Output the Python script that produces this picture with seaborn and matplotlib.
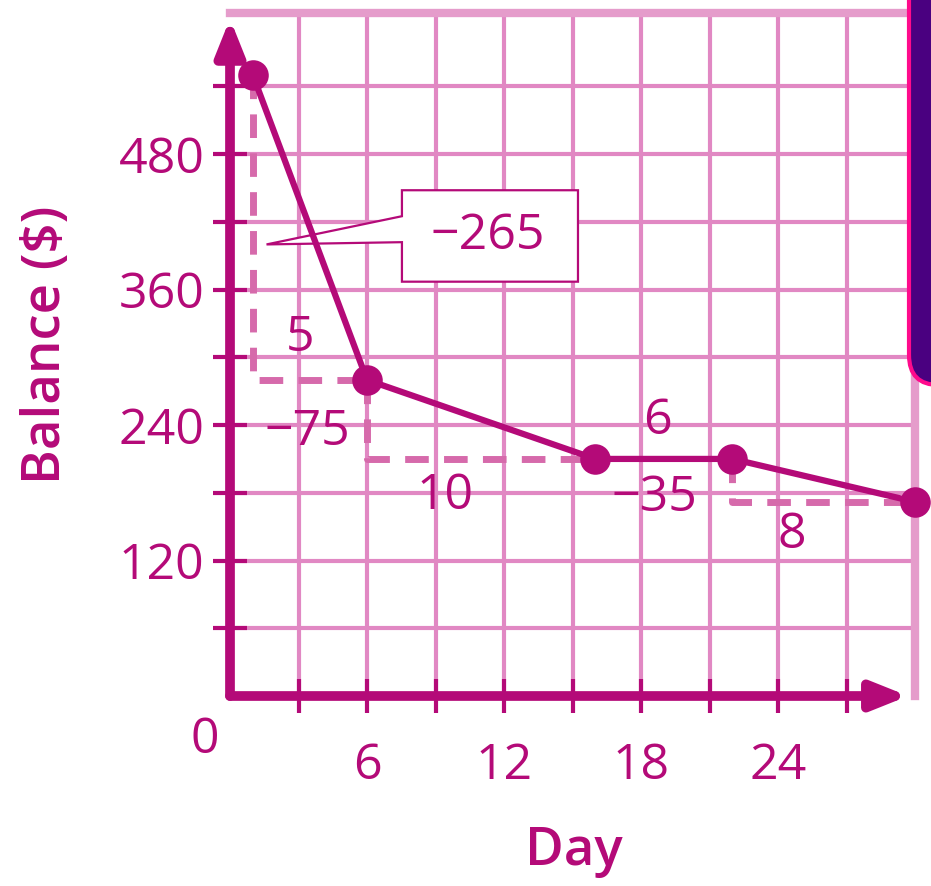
import matplotlib
matplotlib.use("Agg")
import matplotlib.pyplot as plt
import seaborn as sns
import pandas as pd
from matplotlib.patches import Polygon, FancyBboxPatch

# data
days = [1, 6, 16, 22, 30]
balance = [550, 280, 210, 210, 172]
run_labels = ["5", "10", "6", "8"]
rise_labels = ["\u2212265", "\u221275", "", "\u221235"]
x_ticks = list(range(3, 28, 3))
x_tick_labels = ["", "6", "", "12", "", "18", "", "24", ""]
y_ticks = list(range(60, 541, 60))
y_tick_labels = ["", "120", "", "240", "", "360", "", "480", ""]

MAG = "#b40a78"
GRID = "#e188c3"
EDGE = "#e59ccb"
DASH = "#d66aab"
FS = 36

sns.set_theme(style="white")
plt.rcParams["font.family"] = ["Open Sans", "DejaVu Sans"]

df = pd.DataFrame({"day": days, "balance": balance})

fig = plt.figure(figsize=(9.31, 8.86), dpi=100)
ax = fig.add_axes([230 / 931, 190 / 886, 685 / 931, 683 / 886])

# dashed rise/run guides
for i in range(len(days) - 1):
    if balance[i] == balance[i + 1]:
        continue
    ax.plot([days[i], days[i], days[i + 1]],
            [balance[i], balance[i + 1], balance[i + 1]],
            color=DASH, lw=5, linestyle=(0, (3.4, 2.2)), zorder=3,
            solid_capstyle="butt", dash_capstyle="butt")

# callout box for the first rise
box = Polygon([(7.53, 448), (15.24, 448), (15.24, 367), (7.53, 367),
               (7.53, 402), (1.6, 400), (7.53, 425)],
              closed=True, fc="white", ec=MAG, lw=1.6, zorder=3.5)
ax.add_patch(box)

sns.lineplot(data=df, x="day", y="balance", ax=ax, color=MAG, lw=4.5,
             marker="o", markersize=22, markeredgewidth=0, clip_on=False,
             zorder=5)

# axis arrows
arrow = dict(arrowstyle="-|>,head_length=1.05,head_width=0.42",
             lw=7, color=MAG, shrinkA=0, shrinkB=0, mutation_scale=20)
ax.annotate("", xy=(0, 600), xytext=(0, 0), arrowprops=arrow, zorder=4)
ax.annotate("", xy=(29.7, 0), xytext=(0, 0), arrowprops=arrow, zorder=4)

ax.set_xlim(0, 30)
ax.set_ylim(0, 605)
ax.set_xticks(x_ticks)
ax.set_xticklabels(x_tick_labels)
ax.set_yticks(y_ticks)
ax.set_yticklabels(y_tick_labels)
ax.set_xlabel("")
ax.set_ylabel("")
ax.set_axisbelow(True)
ax.grid(True, color=GRID, lw=3)
ax.tick_params(axis="both", which="major", bottom=True, left=True,
               direction="inout", length=25, width=3,
               color=MAG, labelcolor=MAG, labelsize=FS)
ax.tick_params(axis="y", pad=6)
ax.tick_params(axis="x", pad=20)
ax.spines["left"].set_visible(False)
ax.spines["bottom"].set_visible(False)
for s in ("top", "right"):
    ax.spines[s].set_color(EDGE)
    ax.spines[s].set_linewidth(6)

# rise / run labels
txt = dict(color=MAG, fontsize=FS, ha="center", va="center", zorder=6)
ax.text(11.3, 407, rise_labels[0], **txt)
ax.text(3.4, 234, rise_labels[1], **txt)
ax.text(18.6, 175, rise_labels[3], **txt)
ax.text(3.05, 317, run_labels[0], **txt)
ax.text(9.4, 177, run_labels[1], **txt)
ax.text(18.7, 243, run_labels[2], **txt)
ax.text(24.6, 142, run_labels[3], **txt)

fig.text(205 / 931, 1 - 740 / 886, "0", color=MAG, fontsize=FS, ha="center", va="center")
fig.text(47 / 931, 1 - 345 / 886, "Balance ($)", color=MAG, fontsize=38,
         fontweight="semibold", rotation=90, ha="center", va="center")
fig.text(574 / 931, 1 - 852 / 886, "Day", color=MAG, fontsize=38,
         fontweight="semibold", ha="center", va="center")

# cut-off purple panel at the top right
panel = FancyBboxPatch((9.09, 5.01), 1.0, 4.5,
                       boxstyle="round,pad=0,rounding_size=0.3",
                       transform=fig.dpi_scale_trans, fc="#4a0080",
                       ec="#ff0a8c", lw=3)
fig.add_artist(panel)

fig.savefig("out.png", dpi=100)
